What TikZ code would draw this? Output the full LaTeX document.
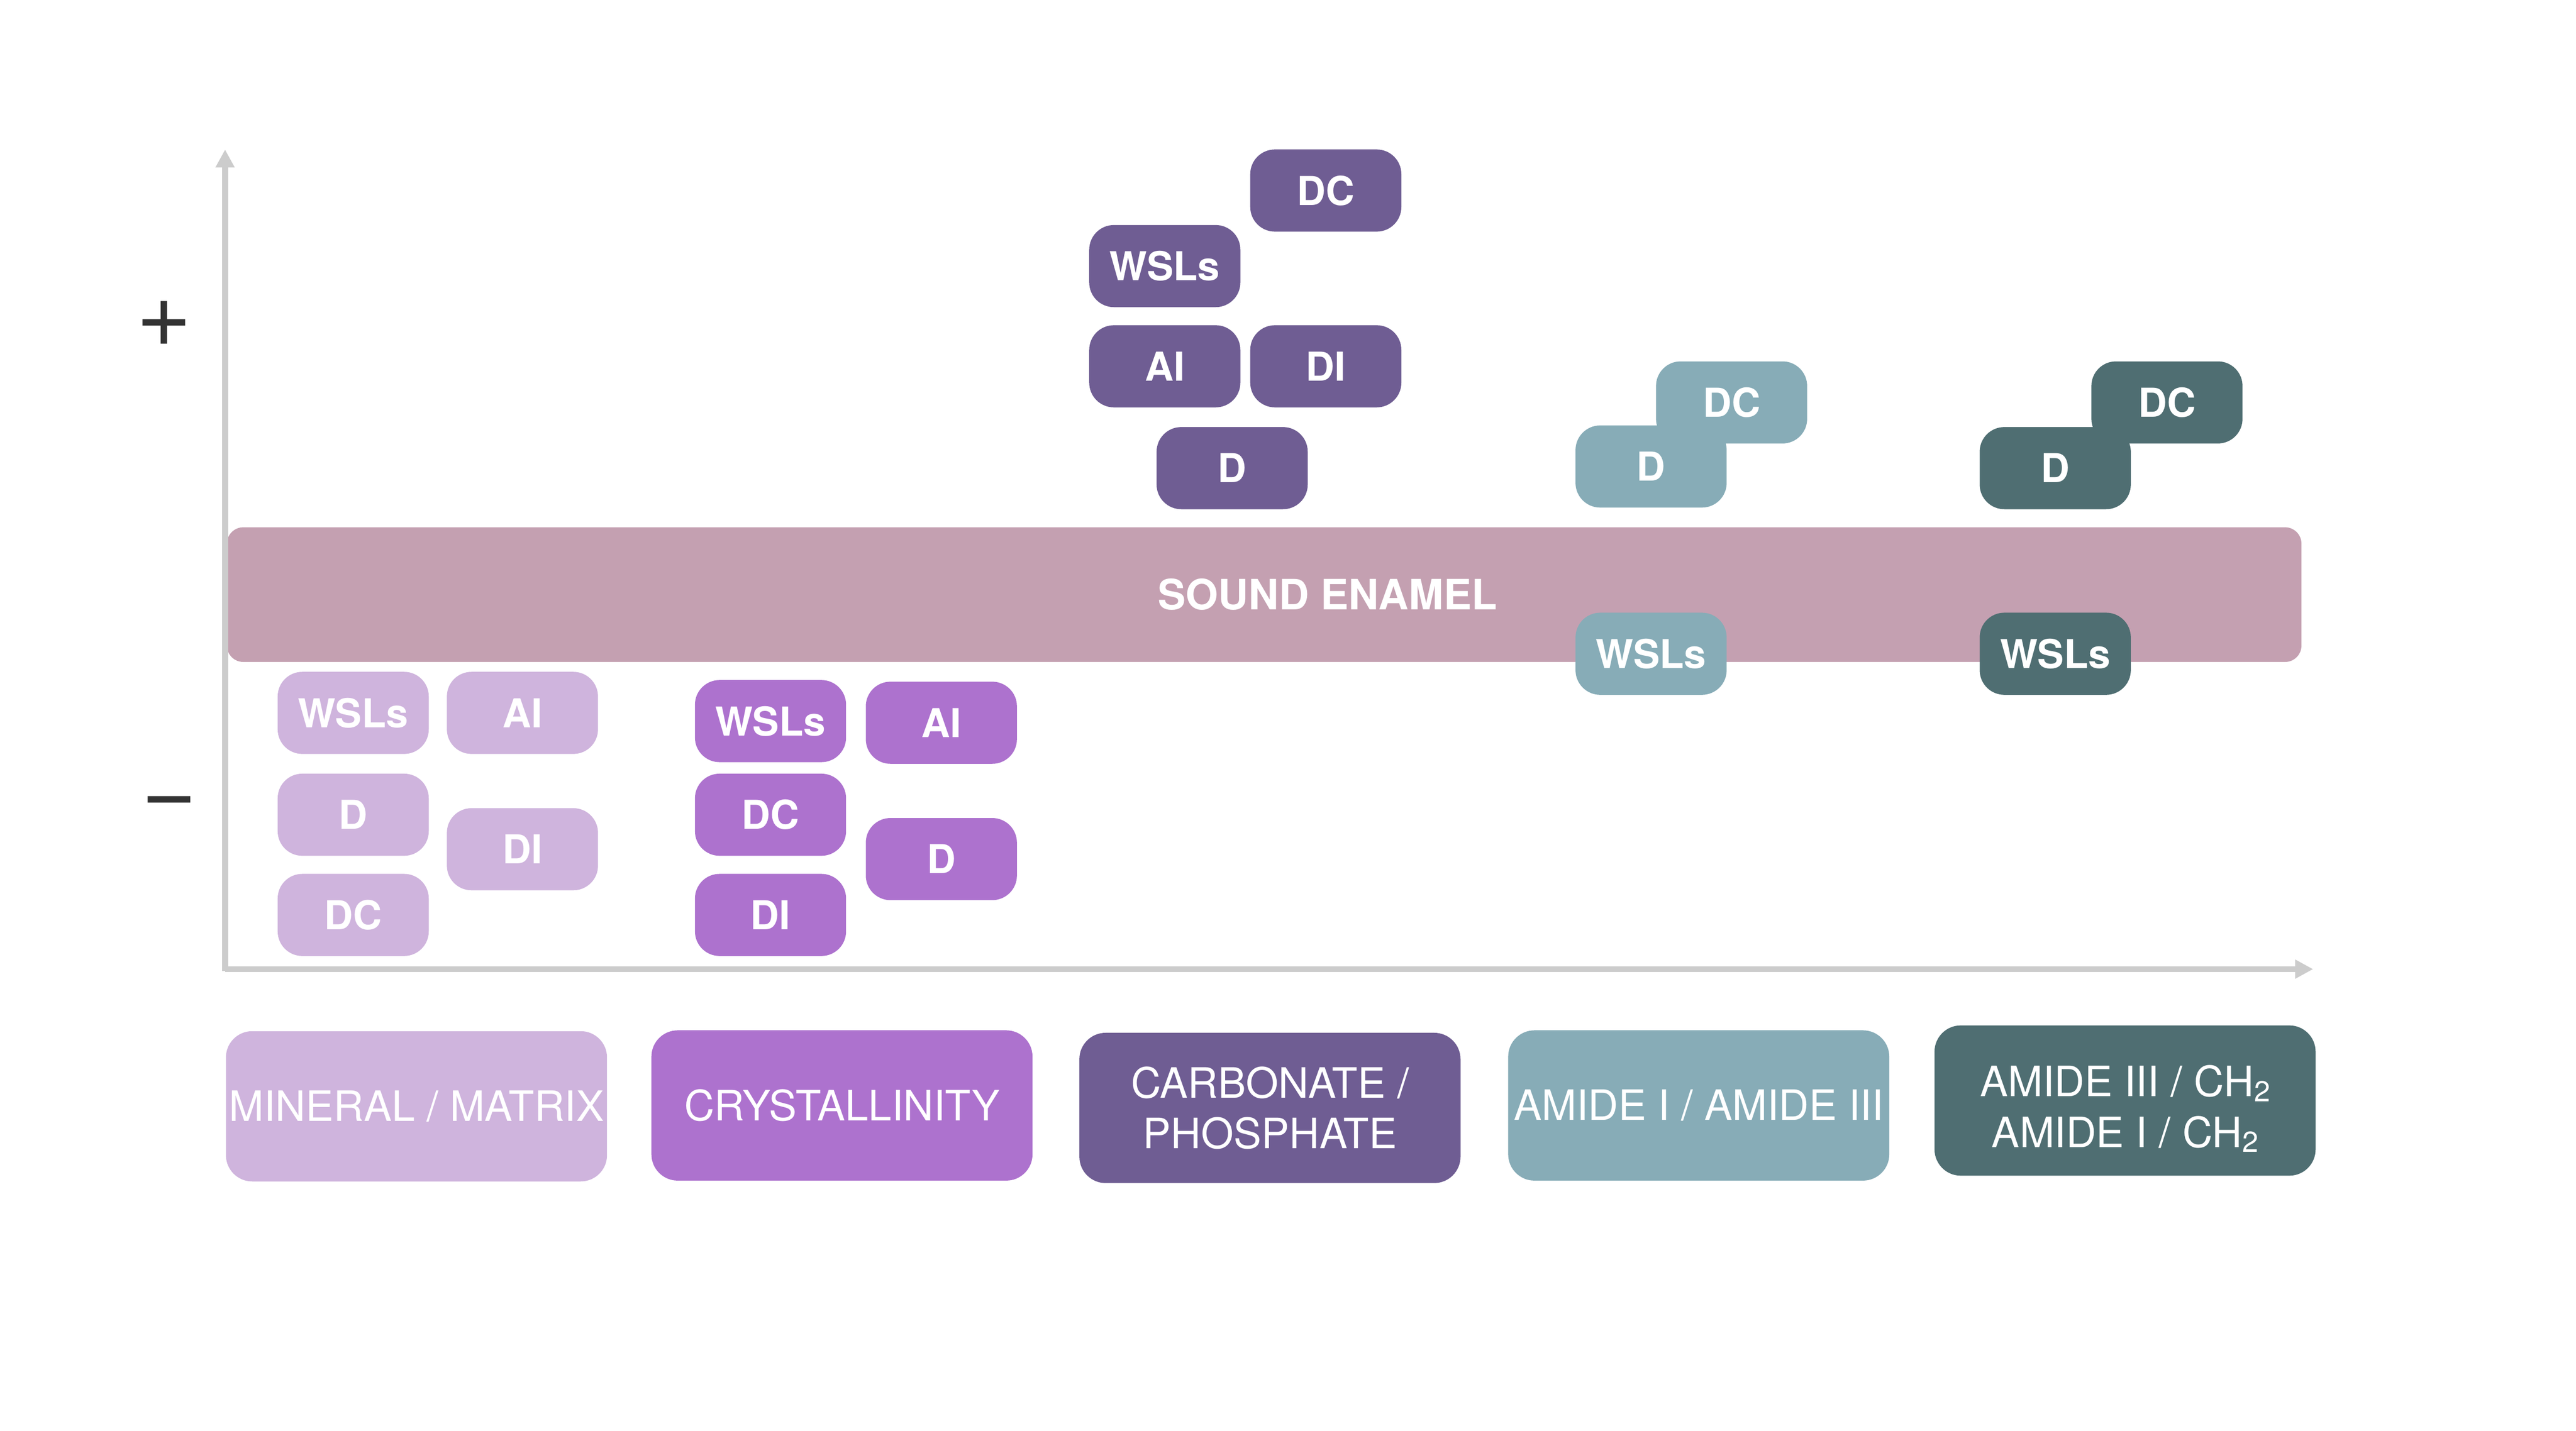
\documentclass[tikz,border=0pt]{standalone}
\usepackage{fontspec}
\setmainfont{TeX Gyre Heros}
\usetikzlibrary{arrows.meta}

\definecolor{mineral}{HTML}{CFB4DD}
\definecolor{crystal}{HTML}{AD72CE}
\definecolor{carbonate}{HTML}{6F5D93}
\definecolor{amidea}{HTML}{87ACB7}
\definecolor{amideb}{HTML}{4F6E72}
\definecolor{enamel}{HTML}{C4A0B1}
\definecolor{axisgray}{HTML}{CCCCCC}
\definecolor{signgray}{HTML}{333333}

\newcommand{\chtwo}{CH\raisebox{-0.12em}{\fontsize{10}{10}\selectfont 2}}

\begin{document}
\begin{tikzpicture}[x=0.02cm, y=-0.02cm,
    tagbox/.style={fill=#1, text=white, rounded corners=0.3cm, minimum width=1.84cm,
        minimum height=1cm, inner sep=0pt, font=\fontsize{13.8}{17}\selectfont\bfseries},
    groupbox/.style={fill=#1, text=white, rounded corners=0.32cm, minimum width=4.64cm,
        minimum height=1.83cm, inner sep=0pt, align=center, font=\fontsize{14.5}{17.6}\selectfont},
    signtext/.style={text=signgray, font=\fontsize{33}{33}\selectfont},
    axisline/.style={draw=axisgray, line width=2.1pt, -{Triangle[length=0.22cm,width=0.22cm]}}]
    \useasboundingbox (0,0) rectangle (1568,871);

    % sound enamel band
    \node[fill=enamel, rounded corners=0.2cm, minimum width=25.26cm, minimum height=1.64cm,
        inner sep=0pt] (band) at (769.5,362) {};
    \node[text=white, font=\fontsize{14.5}{17}\selectfont\bfseries] (bandlabel) at (808,362) {SOUND ENAMEL};

    % axes
    \coordinate (origin) at (137,590);
    \coordinate (ytip) at (137,91);
    \coordinate (xtip) at (1408,590);
    \draw[axisline] (origin |- 0,591) -- (ytip);
    \draw[axisline] (origin) -- (xtip);
    \node[signtext] (plus) at (100,197) {+};
    \node[signtext] (minus) at (103,493) {−};

    % mineral / matrix
    \node[tagbox=mineral] (mm-wsls) at (215,434) {WSLs};
    \node[tagbox=mineral] (mm-ai) at (318,434) {AI};
    \node[tagbox=mineral] (mm-d) at (215,496) {D};
    \node[tagbox=mineral] (mm-di) at (318,517) {DI};
    \node[tagbox=mineral] (mm-dc) at (215,557) {DC};

    % crystallinity
    \node[tagbox=crystal] (cr-wsls) at (469,439) {WSLs};
    \node[tagbox=crystal] (cr-ai) at (573,440) {AI};
    \node[tagbox=crystal] (cr-dc) at (469,496) {DC};
    \node[tagbox=crystal] (cr-d) at (573,523) {D};
    \node[tagbox=crystal] (cr-di) at (469,557) {DI};

    % carbonate / phosphate
    \node[tagbox=carbonate] (cp-dc) at (807,116) {DC};
    \node[tagbox=carbonate] (cp-wsls) at (709,162) {WSLs};
    \node[tagbox=carbonate] (cp-ai) at (709,223) {AI};
    \node[tagbox=carbonate] (cp-di) at (807,223) {DI};
    \node[tagbox=carbonate] (cp-d) at (750,285) {D};

    % amide I / amide III
    \node[tagbox=amidea] (aa-dc) at (1054,245) {DC};
    \node[tagbox=amidea] (aa-d) at (1005,284) {D};
    \node[tagbox=amidea] (aa-wsls) at (1005,398) {WSLs};

    % amide III / CH2
    \node[tagbox=amideb] (ab-dc) at (1319,245) {DC};
    \node[tagbox=amideb] (ab-d) at (1251,285) {D};
    \node[tagbox=amideb] (ab-wsls) at (1251,398) {WSLs};

    % categories
    \node[groupbox=mineral] (mineral) at (253.5,673.5) {MINERAL / MATRIX};
    \node[groupbox=crystal] (crystallinity) at (512.5,673) {CRYSTALLINITY};
    \node[groupbox=carbonate] (carbphos) at (773,674.5) {CARBONATE /\\PHOSPHATE};
    \node[groupbox=amidea] (amideone) at (1034,673) {AMIDE I / AMIDE III};
    \node[groupbox=amideb] (amidethree) at (1293.5,670) {};
    \node[text=white, align=center, font=\fontsize{14.5}{17.6}\selectfont] (amidethreelabel)
        at (1293.5,675) {AMIDE III / \chtwo\\AMIDE I / \chtwo};
\end{tikzpicture}
\end{document}
